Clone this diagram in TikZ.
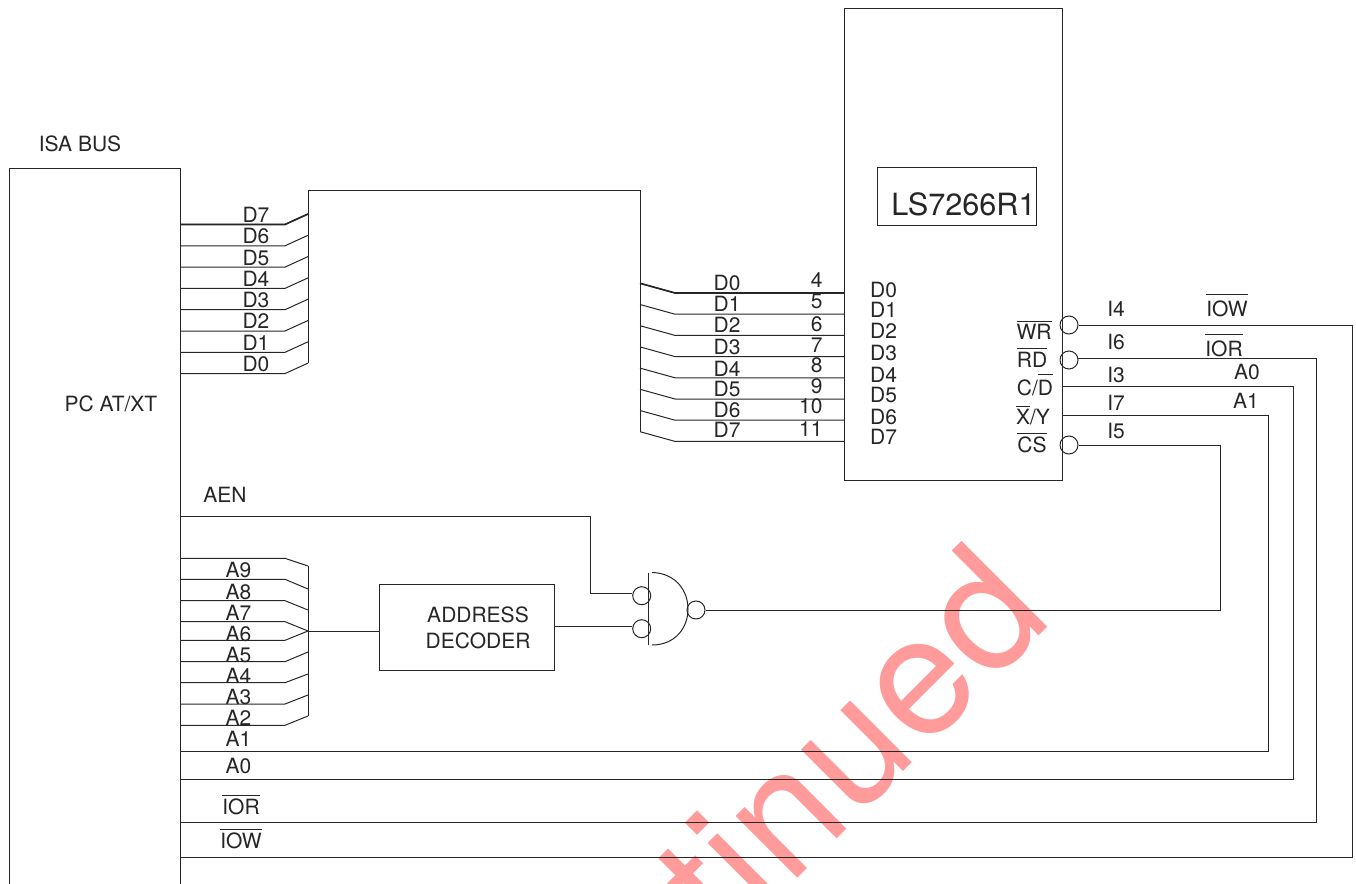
\documentclass[tikz,border=0pt]{standalone}
\usepackage{fontspec}
\setmainfont{TeX Gyre Heros}
\usetikzlibrary{positioning}
\colorlet{mc}{black!85}
\definecolor{wmc}{RGB}{255,155,155}
\tikzset{
	every picture/.style={
		line width=.75pt,
		draw=mc,
		x=.75pt,
		y=-.75pt,
	},
}
\tikzstyle{lbl} = [
	inner sep=0mm,
	anchor=base,
	yshift=-1.1pt,
	font=\fontsize{15.75}{19.5}\selectfont,
	text=mc
]
\tikzstyle{box} = [
	draw=mc,
	inner sep=0mm,
	anchor=center
]
\tikzstyle{bub} = [
	circle,
	draw=mc,
	inner sep=0mm,
	minimum size=13.5pt
]
\tikzstyle{hw}=[line width=1.25pt]
\newcommand{\ovl}[2][13]{$\overline{\mbox{\rule{0pt}{#1pt}#2}}$}

\begin{document}
\begin{tikzpicture}
	\useasboundingbox (0,0) rectangle (1356,884);
	\clip (0,0) rectangle (1356,884);
	\node[inner sep=0mm, rotate=45, anchor=base east, text=wmc, font=\fontsize{125}{125}\selectfont\addfontfeature{LetterSpace=1}] (mark) at (1055,620) {tinued};

	\node[box, minimum width=127.9pt, minimum height=549pt] (isa) at (95.25,534.5) {};
	\node[box, minimum width=163.5pt, minimum height=353.25pt] (chip) at (953,244.5) {};
	\node[box, minimum width=119.25pt, minimum height=43.5pt] (part) at (956.5,197) {};
	\node[box, minimum width=131.25pt, minimum height=64.5pt] (dec) at (466.5,627.5) {};

	\node[lbl] (isalbl) at (80,150) {ISA BUS};
	\node[lbl] (pclbl) at (111,410) {PC AT/XT};
	\node[lbl] (aenlbl) at (225,501) {AEN};
	\node[lbl, font=\fontsize{23}{27}\selectfont] (partlbl) at (963.5,214) {LS7266R1};
	\node[lbl, anchor=center, align=center] (declbl) at (478,626.5) {ADDRESS\\[0pt]DECODER};

	\foreach \a [count=\n from 0] in {7,6,...,0} {
		\coordinate (ld\a) at (180.5,224.5+21.3*\n);
		\coordinate (lb\a) at (308,214+21.3*\n);
		\draw (ld\a) -- ++(104.5,0) -- (lb\a);
		\node[lbl] (ln\a) at (256,221+21.3*\n) {D\a};
	}
	\draw[hw] (ld7) -- ++(104.5,0) -- (lb7);
	\coordinate (bend1) at (308,191);
	\coordinate (bend2) at (640,191);

	\foreach \a [count=\n from 0] in {0,1,...,7} {
		\coordinate (rb\a) at (640,283.3+21.2*\n);
		\coordinate (rd\a) at (844,293+21.2*\n);
		\draw (rb\a) -- ++(35,9.7) -- (rd\a);
	}
	\draw[hw] (rb0) -- ++(35,9.7) -- (rd0);
	\draw (lb0) -- (bend1) -- (bend2) -- (rb7);

	\foreach \a/\y in {0/289, 1/310, 2/331.5, 3/353, 4/375, 5/395, 6/416.5, 7/436.5}
		\node[lbl] (mn\a) at (727,\y) {D\a};
	\foreach \a/\y in {0/296, 1/316.5, 2/337, 3/359.5, 4/381, 5/401, 6/423, 7/443.5}
		\node[lbl] (pn\a) at (883.5,\y) {D\a};
	\foreach \a/\y in {4/286, 5/307, 6/330, 7/351, 8/371, 9/392, 10/412, 11/435.5}
		\node[lbl, anchor=base east] (pin\a) at (823,\y) {\a};

	\foreach \y [count=\n from 1] in {558.3, 579.3, 600.7, 621.7, 640.3, 661.7, 682.7, 704, 725.3} {
		\coordinate (la\n) at (180.5,\y);
	}
	\foreach \y [count=\n from 1] in {566, 589, 610, 631, 631, 652, 674, 695, 716} {
		\coordinate (ab\n) at (308,\y);
		\draw (la\n) -- ++(104.5,0) -- (ab\n);
	}
	\draw (ab1) -- (ab9);
	\draw (ab4) -- (ab4 -| dec.west);
	\foreach \a/\y in {9/576, 8/598, 7/619, 6/640, 5/661, 4/682, 3/703, 2/724, 1/745, 0/772}
		\node[lbl] (an\a) at (238.5,\y) {A\a};

	\node[bub] (nin1) at (641.7,595.7) {};
	\node[bub] (nin2) at (641.7,628.7) {};
	\node[bub] (nout) at (696,610) {};
	\coordinate (ntop) at (648.7,572.5);
	\coordinate (nbot) at (648.7,644.5);
	\draw (ntop) -- (nbot);
	\draw (652,572.5) .. controls (675,573) and (688,590) .. (688,609) .. controls (688,628) and (675,645) .. (652,645);
	\coordinate (aen) at (180.5,516);
	\coordinate (aenb) at (590,516);
	\draw (aen) -- (aenb) |- (nin1.166);
	\draw (dec.east |- nin2.166) -- (nin2.166);

	\foreach \a/\y in {wr/325, rd/360, cs/445}
		\node[bub] (b\a) at (1069,\y) {};
	\foreach \a/\x/\y in {iow/1352/857, ior/1316/822, a0/1293/779, a1/1268/751} {
		\coordinate (r\a) at (\x,\y);
		\coordinate (l\a) at (180.5,\y);
	}
	\coordinate (pcd) at (1062,386.7);
	\coordinate (pxy) at (1062,415);
	\coordinate (rcs) at (1220,610);
	\draw (bwr.east) -| (riow) -- (liow);
	\draw (brd.10) -| (rior) -- (lior);
	\draw (pcd) -| (ra0) -- (la0);
	\draw (pxy) -| (ra1) -- (la1);
	\draw (bcs.east) -| (rcs) -- (nout.east);

	\foreach \a/\x/\y/\t in {
		wr/1034/338/{\ovl[12.5]{WR}},
		rd/1032/366/{\ovl{RD}},
		cd/1035/394/{C/\ovl[14.5]{D}},
		xy/1033/423/{\ovl[12]{X}/Y},
		cs/1032/451/{\ovl{CS}},
		i4/1116/315/{I4},
		i6/1116/348/{I6},
		i3/1116/381/{I3},
		i7/1116/409/{I7},
		i5/1116/437/{I5},
		iow/1227/315/{\ovl[15]{IOW}},
		ior/1224/355/{\ovl[15]{IOR}},
		a0/1247/378/{A0},
		a1/1246/407/{A1},
		liow/241/847/{\ovl{IOW}},
		lior/241/813/{\ovl{IOR}}
	}
		\node[lbl] (t\a) at (\x,\y) {\t};
\end{tikzpicture}
\end{document}
